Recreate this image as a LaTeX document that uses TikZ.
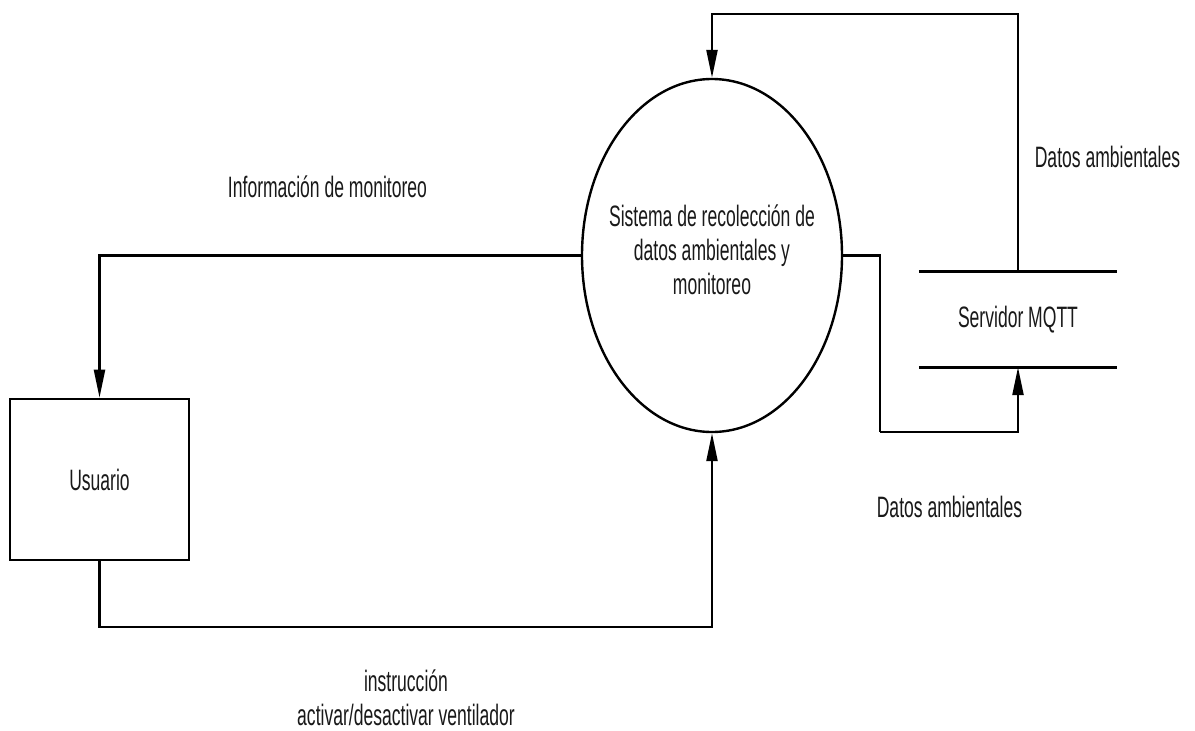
\documentclass[tikz,border=0pt]{standalone}
\usepackage{fontspec}
\setmainfont{Liberation Sans}[FakeStretch=0.595]
\usetikzlibrary{arrows.meta,shapes.geometric}

\tikzset{
  every node/.style={font=\fontsize{29.5}{34}\selectfont, text=black!90},
  flow/.style={line width=2.3pt, draw=black, -{Triangle[length=28pt,width=11pt]}},
  plainflow/.style={line width=2.3pt, draw=black},
  process/.style={ellipse, draw=black, line width=2.4pt, minimum width=260pt,
    minimum height=353pt, inner sep=0pt},
  entity/.style={rectangle, draw=black, line width=2.6pt, minimum width=179pt,
    minimum height=161pt, inner sep=0pt},
  store/.style={rectangle, minimum width=198pt, minimum height=95.5pt, inner sep=0pt},
  storeline/.style={line width=2.6pt, draw=black},
  flowlabel/.style={anchor=base, align=center, inner sep=0pt}
}

\begin{document}
\begin{tikzpicture}[x=1pt, y=-1pt]
  \fill[white] (0,0) rectangle (1195,731);
  \useasboundingbox (0,0) rectangle (1195,731);

  % Process, external entity and data store
  \node[process] (proc) at (712,255.5) {};
  \node[align=center, inner sep=0pt] (procText) at (712,250)
    {Sistema de recolección de\\datos ambientales y\\monitoreo};
  \node[entity] (user) at (99.5,479.5) {Usuario};
  \node[store] (mqtt) at (1018,319.25) {Servidor MQTT};
  \draw[storeline] (mqtt.north west) -- (mqtt.north east);
  \draw[storeline] (mqtt.south west) -- (mqtt.south east);

  % Bend points of the routed connectors
  \coordinate (bendA) at (880,432);
  \coordinate (bendB) at (1018,14);

  % Data flows
  \draw[flow] (proc.west) -| (user.north);
  \draw[flow] (user.south) -- ++(0,65.5) -| (proc.south);
  \draw[plainflow] (proc.east) -| (bendA);
  \draw[flow] (bendA) -| (mqtt.south);
  \draw[flow] (mqtt.north) -- (bendB) -| (proc.north);

  % Flow labels
  \node[flowlabel] (lblInfo) at (327.5,197.7) {Información de monitoreo};
  \node[flowlabel] (lblDatosTop) at (1107.5,167) {Datos ambientales};
  \node[flowlabel] (lblDatosBot) at (949.5,517) {Datos ambientales};
  \node[flowlabel] (lblInstr) at (406,725) {instrucción\\activar/desactivar ventilador};
\end{tikzpicture}
\end{document}
